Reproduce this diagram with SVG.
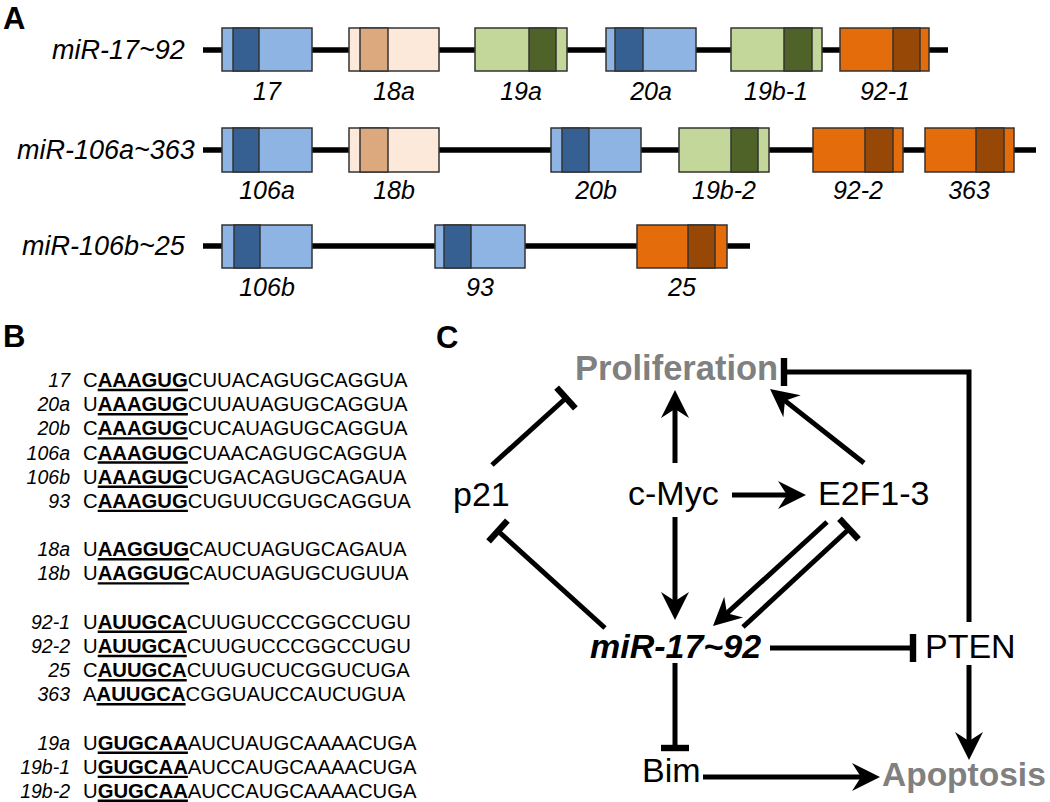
<svg xmlns="http://www.w3.org/2000/svg" width="1050" height="802" viewBox="0 0 1050 802">
<style>
text{font-family:"Liberation Sans",Arial,Helvetica,sans-serif;fill:#000}
.it{font-style:italic}
.pl{font-size:31px;font-weight:bold}
.rl{font-size:27px;font-style:italic}
.bl{font-size:25px;font-style:italic;text-anchor:middle}
.nm{font-size:19.5px;font-style:italic;text-anchor:end}
.sq{font-size:20.3px}
.b{font-weight:bold}
.ul{stroke:#000;stroke-width:2.4}
.ln{stroke:#000;stroke-width:5.5}
.bx{stroke:#333;stroke-width:1.5}
.lbl{fill:#8EB4E3}.dbl{fill:#376092}.lpe{fill:#FDE9D9}.tan{fill:#DCA87D}
.lgr{fill:#C4D79B}.dgr{fill:#4F6228}.or{fill:#E46C0A}.dor{fill:#974706}
.nd{font-size:34px}
.out{font-size:34.5px;font-weight:bold;fill:#808080}
.c{stroke:#000;stroke-width:5;fill:none;stroke-linejoin:miter}
.ar{marker-end:url(#arr)}
.tb{marker-end:url(#tee)}
</style>
<defs>
<marker id="arr" markerUnits="userSpaceOnUse" viewBox="-14 -16 32 32" markerWidth="32" markerHeight="32" refX="0" refY="0" orient="auto" overflow="visible">
<path d="M16,0 L-12,-14 L-3,0 L-12,14 Z" fill="#000"/>
</marker>
<marker id="tee" markerUnits="userSpaceOnUse" viewBox="-4 -15 8 30" markerWidth="8" markerHeight="30" refX="0" refY="0" orient="auto" overflow="visible">
<rect x="-3.2" y="-14" width="6.4" height="28" fill="#000"/>
</marker>
</defs>

<!-- Panel A -->
<g id="panelA">
<text class="pl" x="3" y="29">A</text>
<g id="row1">
<text class="rl" x="52" y="59">miR-17~92</text>
<line class="ln" x1="203" y1="50" x2="948" y2="50"/>
<g id="b17"><rect class="bx lbl" x="222" y="28" width="90" height="43"/><rect class="bx dbl" x="233" y="28" width="26" height="43"/><text class="bl" x="267" y="100">17</text></g>
<g id="b18a"><rect class="bx lpe" x="349" y="28" width="90" height="43"/><rect class="bx tan" x="360" y="28" width="28" height="43"/><text class="bl" x="394" y="100">18a</text></g>
<g id="b19a"><rect class="bx lgr" x="475" y="28" width="92" height="43"/><rect class="bx dgr" x="529" y="28" width="27" height="43"/><text class="bl" x="521" y="100">19a</text></g>
<g id="b20a"><rect class="bx lbl" x="606" y="28" width="90" height="43"/><rect class="bx dbl" x="615" y="28" width="28" height="43"/><text class="bl" x="651" y="100">20a</text></g>
<g id="b19b1"><rect class="bx lgr" x="731" y="28" width="91" height="43"/><rect class="bx dgr" x="784" y="28" width="28" height="43"/><text class="bl" x="776" y="100">19b-1</text></g>
<g id="b921"><rect class="bx or" x="840" y="28" width="89" height="43"/><rect class="bx dor" x="893" y="28" width="27" height="43"/><text class="bl" x="885" y="100">92-1</text></g>
</g>
<g id="row2">
<text class="rl" x="17" y="159">miR-106a~363</text>
<line class="ln" x1="203" y1="150" x2="1036" y2="150"/>
<g id="b106a"><rect class="bx lbl" x="222" y="128" width="90" height="44"/><rect class="bx dbl" x="233" y="128" width="26" height="44"/><text class="bl" x="267" y="199">106a</text></g>
<g id="b18b"><rect class="bx lpe" x="349" y="128" width="90" height="44"/><rect class="bx tan" x="360" y="128" width="28" height="44"/><text class="bl" x="394" y="199">18b</text></g>
<g id="b20b"><rect class="bx lbl" x="551" y="128" width="90" height="44"/><rect class="bx dbl" x="562" y="128" width="27" height="44"/><text class="bl" x="596" y="199">20b</text></g>
<g id="b19b2"><rect class="bx lgr" x="679" y="128" width="90" height="44"/><rect class="bx dgr" x="731" y="128" width="27" height="44"/><text class="bl" x="724" y="199">19b-2</text></g>
<g id="b922"><rect class="bx or" x="813" y="128" width="90" height="44"/><rect class="bx dor" x="865" y="128" width="28" height="44"/><text class="bl" x="858" y="199">92-2</text></g>
<g id="b363"><rect class="bx or" x="925" y="128" width="89" height="44"/><rect class="bx dor" x="976" y="128" width="28" height="44"/><text class="bl" x="969" y="199">363</text></g>
</g>
<g id="row3">
<text class="rl" x="22" y="255">miR-106b~25</text>
<line class="ln" x1="203" y1="246" x2="750" y2="246"/>
<g id="b106b"><rect class="bx lbl" x="222" y="225" width="90" height="43"/><rect class="bx dbl" x="234" y="225" width="26" height="43"/><text class="bl" x="267" y="296">106b</text></g>
<g id="b93"><rect class="bx lbl" x="435" y="225" width="90" height="43"/><rect class="bx dbl" x="444" y="225" width="27" height="43"/><text class="bl" x="480" y="296">93</text></g>
<g id="b25"><rect class="bx or" x="637" y="225" width="90" height="43"/><rect class="bx dor" x="688" y="225" width="27" height="43"/><text class="bl" x="682" y="296">25</text></g>
</g>
</g>

<!-- Panel B -->
<g id="panelB">
<text class="pl" x="3" y="347">B</text>
<g id="names">
<text class="nm" x="70" y="387">17</text>
<text class="nm" x="70" y="411.2">20a</text>
<text class="nm" x="70" y="435.4">20b</text>
<text class="nm" x="70" y="459.5">106a</text>
<text class="nm" x="70" y="483.7">106b</text>
<text class="nm" x="70" y="507.9">93</text>
<text class="nm" x="70" y="556.3">18a</text>
<text class="nm" x="70" y="580.4">18b</text>
<text class="nm" x="70" y="628.8">92-1</text>
<text class="nm" x="70" y="653">92-2</text>
<text class="nm" x="70" y="677.2">25</text>
<text class="nm" x="70" y="701.3">363</text>
<text class="nm" x="70" y="749.7">19a</text>
<text class="nm" x="70" y="773.9">19b-1</text>
<text class="nm" x="70" y="798">19b-2</text>
</g>
<g id="seqs">
<text class="sq" x="83" y="387">C<tspan class="b">AAAGUG</tspan>CUUACAGUGCAGGUA</text>
<text class="sq" x="83" y="411.2">U<tspan class="b">AAAGUG</tspan>CUUAUAGUGCAGGUA</text>
<text class="sq" x="83" y="435.4">C<tspan class="b">AAAGUG</tspan>CUCAUAGUGCAGGUA</text>
<text class="sq" x="83" y="459.5">C<tspan class="b">AAAGUG</tspan>CUAACAGUGCAGGUA</text>
<text class="sq" x="83" y="483.7">U<tspan class="b">AAAGUG</tspan>CUGACAGUGCAGAUA</text>
<text class="sq" x="83" y="507.9">C<tspan class="b">AAAGUG</tspan>CUGUUCGUGCAGGUA</text>
<text class="sq" x="83" y="556.3">U<tspan class="b">AAGGUG</tspan>CAUCUAGUGCAGAUA</text>
<text class="sq" x="83" y="580.4">U<tspan class="b">AAGGUG</tspan>CAUCUAGUGCUGUUA</text>
<text class="sq" x="83" y="628.8">U<tspan class="b">AUUGCA</tspan>CUUGUCCCGGCCUGU</text>
<text class="sq" x="83" y="653">U<tspan class="b">AUUGCA</tspan>CUUGUCCCGGCCUGU</text>
<text class="sq" x="83" y="677.2">C<tspan class="b">AUUGCA</tspan>CUUGUCUCGGUCUGA</text>
<text class="sq" x="83" y="701.3">A<tspan class="b">AUUGCA</tspan>CGGUAUCCAUCUGUA</text>
<text class="sq" x="83" y="749.7">U<tspan class="b">GUGCAA</tspan>AUCUAUGCAAAACUGA</text>
<text class="sq" x="83" y="773.9">U<tspan class="b">GUGCAA</tspan>AUCCAUGCAAAACUGA</text>
<text class="sq" x="83" y="798">U<tspan class="b">GUGCAA</tspan>AUCCAUGCAAAACUGA</text>
</g>
<g id="underlines">
<line class="ul" x1="97.7" y1="390" x2="187.9" y2="390"/>
<line class="ul" x1="97.7" y1="414.2" x2="187.9" y2="414.2"/>
<line class="ul" x1="97.7" y1="438.4" x2="187.9" y2="438.4"/>
<line class="ul" x1="97.7" y1="462.5" x2="187.9" y2="462.5"/>
<line class="ul" x1="97.7" y1="486.7" x2="187.9" y2="486.7"/>
<line class="ul" x1="97.7" y1="510.9" x2="187.9" y2="510.9"/>
<line class="ul" x1="97.7" y1="559.3" x2="189.1" y2="559.3"/>
<line class="ul" x1="97.7" y1="583.4" x2="189.1" y2="583.4"/>
<line class="ul" x1="97.7" y1="631.8" x2="186.8" y2="631.8"/>
<line class="ul" x1="97.7" y1="656" x2="186.8" y2="656"/>
<line class="ul" x1="97.7" y1="680.2" x2="186.8" y2="680.2"/>
<line class="ul" x1="96.5" y1="704.3" x2="185.6" y2="704.3"/>
<line class="ul" x1="97.7" y1="752.7" x2="187.9" y2="752.7"/>
<line class="ul" x1="97.7" y1="776.9" x2="187.9" y2="776.9"/>
<line class="ul" x1="97.7" y1="800.8" x2="187.9" y2="800.8"/>
</g>
</g>

<!-- Panel C -->
<g id="panelC">
<text class="pl" x="436" y="348">C</text>
<g id="connectors">
<line class="c tb" x1="492" y1="465" x2="566" y2="398"/>
<line class="c ar" x1="675" y1="463" x2="675" y2="406"/>
<line class="c ar" x1="864" y1="463" x2="782.6" y2="398.9"/>
<line class="c ar" x1="732" y1="495" x2="790" y2="495"/>
<line class="c ar" x1="675" y1="517" x2="675" y2="604"/>
<line class="c ar" x1="827" y1="522" x2="724.8" y2="615.2"/>
<line class="c tb" x1="743" y1="627" x2="849" y2="529"/>
<line class="c tb" x1="605" y1="628" x2="498" y2="531"/>
<line class="c tb" x1="770" y1="648" x2="913" y2="648"/>
<path class="c tb" d="M969,622 V372 H784"/>
<line class="c ar" x1="969" y1="665" x2="969" y2="744"/>
<line class="c tb" x1="675" y1="663" x2="675" y2="748"/>
<line class="c ar" x1="703" y1="777" x2="864" y2="777"/>
</g>
<g id="n-prolif"><text class="out" x="575" y="380">Proliferation</text></g>
<g id="n-p21"><text class="nd" x="453" y="506">p21</text></g>
<g id="n-cmyc"><text class="nd" x="628" y="505">c-Myc</text></g>
<g id="n-e2f"><text class="nd" x="818" y="505">E2F1-3</text></g>
<g id="n-mir"><text class="nd it b" x="590" y="658">miR-17~92</text></g>
<g id="n-pten"><text class="nd" x="925" y="658">PTEN</text></g>
<g id="n-bim"><text class="nd" x="642" y="782">Bim</text></g>
<g id="n-apop"><text class="out" x="882" y="786" style="font-size:33.5px">Apoptosis</text></g>
</g>
</svg>
